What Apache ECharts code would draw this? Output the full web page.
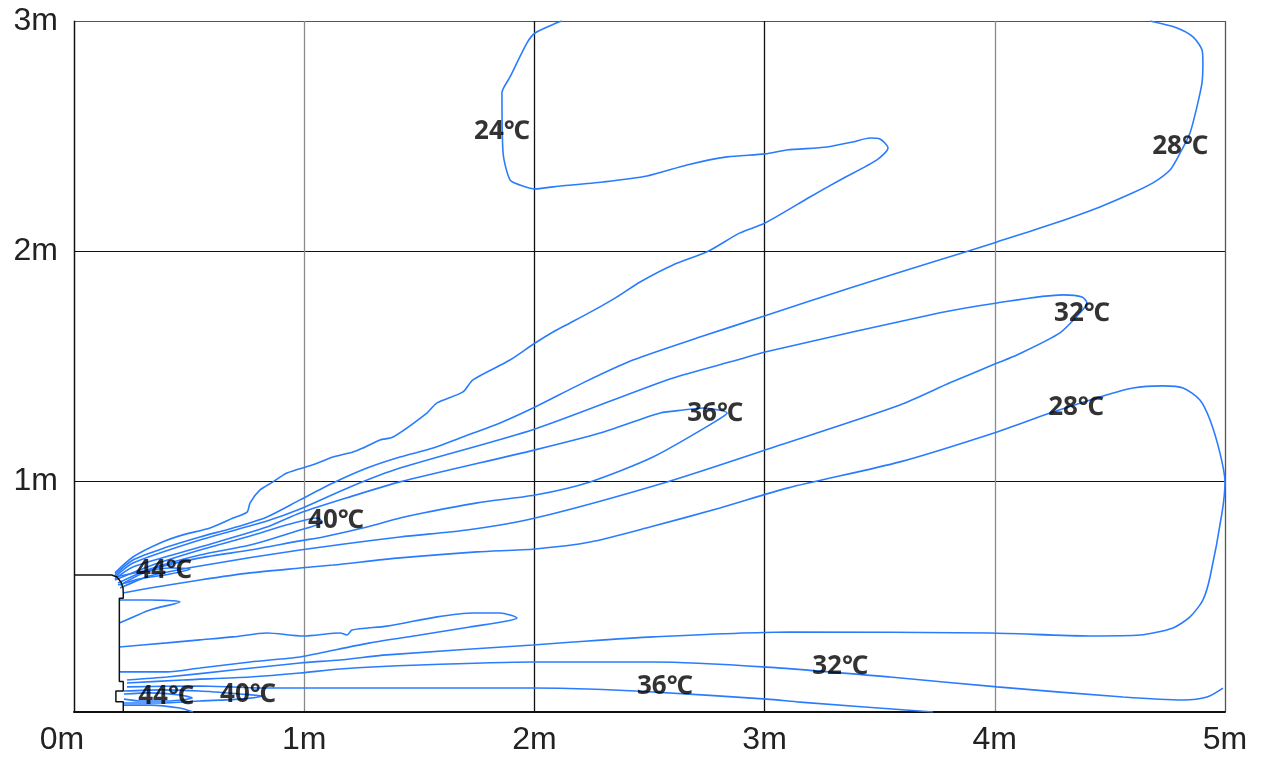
<!DOCTYPE html>
<html>
<head>
<meta charset="utf-8">
<script src="https://cdn.jsdelivr.net/npm/echarts@6/dist/echarts.min.js"></script>
<style>
html,body{margin:0;padding:0;background:#fff;}
#chart{width:1269px;height:761px;}
</style>
</head>
<body>
<div id="chart"></div>
<script>
// Axis ticks (metres)
const xTicks = [0, 1, 2, 3, 4, 5];
const yTicks = [0, 1, 2, 3];

// Nozzle / wall outline [x m, y m]
const nozzle = [[0,0.595],[0.164,0.595],[0.187,0.586],[0.204,0.564],[0.213,0.538],[0.214,0.517],[0.214,0.494],[0.197,0.494],[0.197,0.132],[0.214,0.132],[0.214,0.091],[0.182,0.091],[0.182,0.045],[0.214,0.045],[0.214,0]];

// Isotherms [x m, y m]
const c24 = [[0.178,0.604],[0.256,0.673],[0.374,0.734],[0.473,0.769],[0.591,0.799],[0.691,0.842],[0.752,0.868],[0.765,0.908],[0.808,0.964],[0.864,0.999],[0.925,1.038],[1.038,1.073],[1.125,1.107],[1.212,1.129],[1.255,1.146],[1.329,1.181],[1.386,1.194],[1.533,1.298],[1.577,1.342],[1.690,1.390],[1.733,1.442],[1.894,1.528],[2.003,1.602],[2.081,1.650],[2.155,1.689],[2.285,1.759],[2.359,1.802],[2.459,1.867],[2.602,1.941],[2.750,1.998],[2.893,2.080],[3.002,2.123],[3.197,2.236],[3.328,2.310],[3.488,2.397],[3.536,2.449],[3.501,2.488],[3.458,2.492],[3.384,2.475],[3.271,2.453],[3.097,2.440],[3.002,2.423],[2.837,2.410],[2.663,2.375],[2.489,2.327],[2.298,2.301],[2.081,2.280],[2.003,2.271],[1.937,2.288],[1.894,2.310],[1.864,2.427],[1.859,2.688],[1.894,2.757],[1.968,2.905],[2.003,2.948],[2.098,2.992],[2.120,3.0]];
const c28Upper = [[0.178,0.595],[0.256,0.660],[0.404,0.716],[0.547,0.760],[0.691,0.799],[0.838,0.847],[0.982,0.921],[1.125,0.994],[1.273,1.059],[1.416,1.107],[1.560,1.146],[1.677,1.190],[1.851,1.255],[2.003,1.324],[2.211,1.429],[2.428,1.528],[2.719,1.628],[3.002,1.720],[3.371,1.841],[3.762,1.963],[4.010,2.041],[4.240,2.115],[4.457,2.193],[4.600,2.254],[4.687,2.297],[4.761,2.353],[4.805,2.427],[4.848,2.514],[4.878,2.627],[4.900,2.731],[4.904,2.818],[4.900,2.875],[4.861,2.931],[4.792,2.970],[4.674,3.0]];
const c32Loop = [[0.178,0.586],[0.256,0.647],[0.547,0.747],[0.838,0.829],[0.982,0.881],[1.199,0.977],[1.416,1.059],[2.003,1.229],[2.589,1.446],[2.880,1.528],[3.002,1.563],[3.762,1.733],[4.010,1.776],[4.296,1.811],[4.379,1.802],[4.400,1.776],[4.370,1.733],[4.283,1.646],[4.096,1.550],[4.010,1.515],[3.805,1.429],[3.588,1.333],[3.067,1.159],[2.576,0.999],[2.003,0.842],[1.707,0.790],[1.416,0.760],[0.982,0.703],[0.547,0.634],[0.330,0.591],[0.200,0.538]];
const c36Loop = [[0.178,0.578],[0.256,0.630],[0.547,0.716],[0.838,0.803],[0.982,0.864],[1.199,0.934],[1.416,0.999],[2.003,1.138],[2.285,1.211],[2.546,1.298],[2.646,1.311],[2.732,1.320],[2.837,1.298],[2.776,1.255],[2.515,1.107],[2.242,0.999],[2.003,0.942],[1.751,0.908],[1.516,0.864],[1.416,0.842],[1.273,0.803],[1.082,0.760],[0.982,0.743],[0.765,0.703],[0.547,0.669],[0.330,0.617],[0.200,0.551]];
const c40Loop = [[0.178,0.573],[0.330,0.634],[0.547,0.703],[0.765,0.764],[0.938,0.816],[1.060,0.842],[1.077,0.825],[0.982,0.790],[0.765,0.725],[0.547,0.682],[0.330,0.621],[0.191,0.560]];
const c44Loop = [[0.178,0.586],[0.287,0.608],[0.417,0.625],[0.504,0.621],[0.417,0.599],[0.287,0.578],[0.191,0.551]];
const c28Loop = [[0.213,0.517],[0.330,0.538],[0.547,0.573],[0.765,0.604],[0.982,0.625],[1.125,0.638],[1.416,0.669],[1.751,0.695],[2.003,0.708],[2.242,0.738],[2.502,0.803],[2.806,0.886],[3.102,0.973],[3.588,1.086],[4.010,1.216],[4.240,1.298],[4.457,1.368],[4.600,1.407],[4.731,1.416],[4.818,1.407],[4.891,1.355],[4.935,1.268],[4.978,1.125],[5.0,0.999],[4.987,0.864],[4.935,0.586],[4.904,0.486],[4.848,0.413],[4.774,0.365],[4.631,0.334],[4.414,0.330],[3.979,0.343],[3.110,0.347],[2.515,0.326],[2.168,0.304],[1.994,0.291],[1.360,0.248],[1.156,0.226],[0.982,0.213],[0.691,0.182],[0.404,0.152],[0.230,0.139]];
const c32Floor = [[0.230,0.126],[0.473,0.139],[0.765,0.152],[0.982,0.169],[1.156,0.187],[1.503,0.204],[1.994,0.217],[2.515,0.217],[3.010,0.195],[3.545,0.152],[4.010,0.109],[4.557,0.065],[4.818,0.052],[4.922,0.065],[4.991,0.104]];
const c36Floor = [[0.230,0.109],[0.547,0.113],[0.838,0.104],[1.156,0.104],[1.994,0.104],[2.229,0.100],[2.515,0.087],[3.010,0.056],[3.154,0.043],[3.732,0]];
const c40Floor = [[0.217,0.091],[0.374,0.096],[0.547,0.091],[0.721,0.078],[0.817,0.069],[0.721,0.056],[0.547,0.048],[0.374,0.039],[0.217,0.039]];
const c44Floor = [[0.217,0.078],[0.330,0.083],[0.460,0.074],[0.513,0.061],[0.417,0.048],[0.287,0.048],[0.217,0.056]];
const floorEdge = [[0.217,0.030],[0.330,0.030],[0.460,0.017],[0.517,0]];
const tongueA = [[0.197,0.486],[0.330,0.486],[0.460,0.478],[0.330,0.443],[0.197,0.386]];
const tongueB = [[0.197,0.282],[0.404,0.300],[0.547,0.313],[0.691,0.326],[0.838,0.343],[0.995,0.330],[1.156,0.343],[1.186,0.334],[1.208,0.356],[1.360,0.373],[1.577,0.413],[1.733,0.430],[1.851,0.430],[1.924,0.408],[1.881,0.395],[1.720,0.369],[1.503,0.334],[1.286,0.300],[1.069,0.256],[0.982,0.239],[0.765,0.217],[0.547,0.191],[0.404,0.174],[0.197,0.174]];

// Contour labels
const labelTexts = ['24℃','28℃','32℃','36℃','28℃','40℃','44℃','32℃','36℃','44℃','40℃'];
const labelX = [1.859, 4.805, 4.379, 2.785, 4.353, 1.138, 0.391, 3.328, 2.567, 0.400, 0.756];
const labelY = [2.518, 2.453, 1.728, 1.294, 1.320, 0.829, 0.612, 0.195, 0.109, 0.065, 0.074];

const BLUE = '#2a7cff';
const isolines = [c24, c28Upper, c32Loop, c36Loop, c40Loop, c44Loop, c28Loop, c32Floor, c36Floor, c40Floor, c44Floor, floorEdge, tongueA, tongueB];

const series = isolines.map(d => ({
  type: 'line', data: d, showSymbol: false, symbol: 'none', smooth: 0.25,
  lineStyle: { color: BLUE, width: 1.6 }, silent: true, z: 3
}));
series.push({
  type: 'line', data: nozzle, showSymbol: false, symbol: 'none', smooth: false,
  lineStyle: { color: '#111', width: 1.5 }, silent: true, z: 4
});
series.push({
  type: 'scatter', symbolSize: 1, itemStyle: { color: 'rgba(0,0,0,0)' }, z: 10, silent: true,
  data: labelTexts.map((t, i) => ({ value: [labelX[i], labelY[i]], name: t })),
  label: {
    show: true, position: 'inside', formatter: p => p.name,
    color: '#000', fontWeight: 'bold', fontSize: 26,
    fontFamily: '"Open Sans", "Noto Sans", "Noto Sans CJK SC", sans-serif'
  }
});

const axisFont = '"Liberation Sans", Arial, sans-serif';
const chart = echarts.init(document.getElementById('chart'), null, { renderer: 'canvas' });
chart.setOption({
  animation: false,
  backgroundColor: '#fff',
  grid: { left: 74, right: 44, top: 21, bottom: 49, containLabel: false },
  xAxis: {
    type: 'value', min: xTicks[0], max: xTicks[xTicks.length - 1], interval: 1,
    axisLine: { show: true, onZero: false, lineStyle: { color: '#111', width: 2 } },
    axisTick: { show: false },
    axisLabel: {
      formatter: v => v === 0 ? '{z|' + v + 'm}' : v + 'm',
      fontSize: 32, color: '#222', margin: 12, fontFamily: axisFont,
      rich: { z: { fontSize: 32, color: '#222', fontFamily: axisFont, padding: [0, 24, 0, 0] } }
    },
    splitLine: { show: true, lineStyle: { color: ['#000', '#8a8a8a', '#111', '#111', '#8a8a8a', '#555'], width: 1.3 } }
  },
  yAxis: {
    type: 'value', min: yTicks[0], max: yTicks[yTicks.length - 1], interval: 1,
    axisLine: { show: true, onZero: false, lineStyle: { color: '#111', width: 1.2 } },
    axisTick: { show: false },
    axisLabel: { formatter: '{value}m', showMinLabel: false, fontSize: 32, color: '#222', margin: 16, fontFamily: axisFont },
    splitLine: { show: true, lineStyle: { color: ['#000', '#111', '#111', '#555'], width: 1.2 } }
  },
  series: series
});
</script>
</body>
</html>
